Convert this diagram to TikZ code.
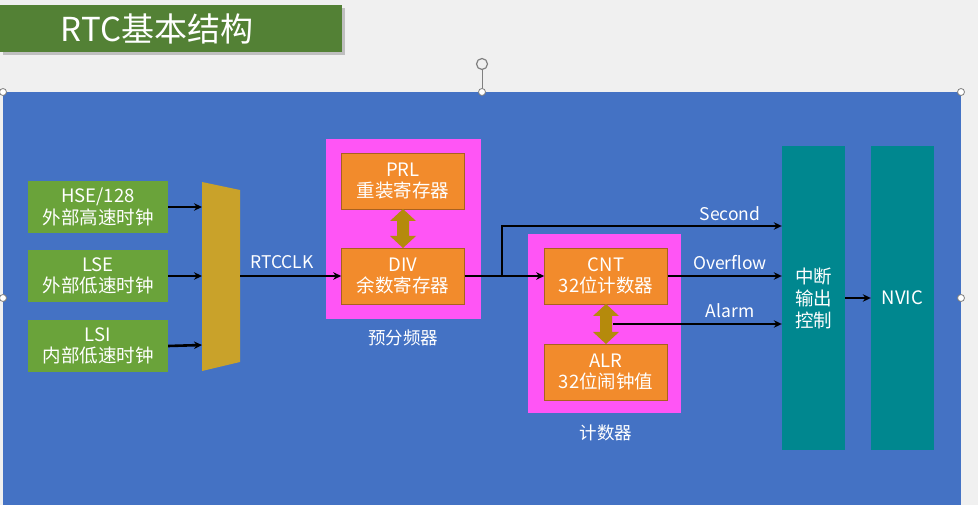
\documentclass[tikz,border=0pt]{standalone}
\usepackage{fontspec}
\setmainfont{Noto Sans CJK SC}
\usetikzlibrary{arrows.meta}
\definecolor{bgray}{HTML}{F0F0F0}
\definecolor{titlegreen}{HTML}{538135}
\definecolor{panelblue}{HTML}{4472C4}
\definecolor{srcgreen}{HTML}{6AA33A}
\definecolor{muxgold}{HTML}{C9A22A}
\definecolor{pinkbox}{HTML}{FF55F5}
\definecolor{orangebox}{HTML}{F28B2C}
\definecolor{dblgold}{HTML}{B58A0C}
\definecolor{tealbox}{HTML}{00878F}
\tikzset{
  srcbox/.style={fill=srcgreen, text=white, minimum width=140pt, minimum height=52pt, inner sep=0pt, align=center, font=\fontsize{18.5}{21.5}\selectfont},
  regbox/.style={fill=orangebox, draw=orangebox!70!black, line width=0.6pt, text=white, minimum width=123pt, minimum height=56pt, inner sep=0pt, align=center, font=\fontsize{18.5}{21.5}\selectfont},
  groupbox/.style={fill=pinkbox, inner sep=0pt},
  tealcol/.style={fill=tealbox, text=white, minimum width=63pt, minimum height=304pt, inner sep=0pt, align=center, font=\fontsize{18.5}{22}\selectfont},
  wire/.style={line width=2.6pt, draw=black},
  arr/.style={wire, -{Stealth[length=8pt,width=7.5pt]}},
  lbl/.style={text=white, font=\fontsize{17.5}{20}\selectfont, inner sep=0pt},
  handle/.style={circle, draw=gray, fill=white, line width=0.8pt, minimum size=7pt, inner sep=0pt},
}
\newcommand{\dblarrow}[4]{% x, ytop, ybot, color
  \fill[#4] (#1,#2) -- ++(13,12) -- ++(-7,0) -- (#1+6,#3-12) -- ++(7,0) -- (#1,#3) -- ++(-13,-12) -- ++(7,0) -- (#1-6,#2+12) -- ++(-7,0) -- cycle;}
\begin{document}
\begin{tikzpicture}[x=1pt,y=-1pt]
\useasboundingbox (0,0) rectangle (978,505);
\fill[bgray] (0,0) rectangle (978,505);
% title
\fill[black!25] (3,8) rectangle (345,55);
\node[fill=titlegreen, minimum width=342pt, minimum height=47pt, inner sep=0pt, anchor=north west] (title) at (0,5) {};
\node[text=white, font=\fontsize{33}{36}\selectfont, inner sep=0pt] (titletext) at (157,29) {RTC基本结构};
% panel
\draw[gray, line width=0.8pt] (482,69) -- (482,92);
\node[circle, draw=gray, line width=1.2pt, minimum size=11pt, inner sep=0pt] (rot) at (482,64) {};
\fill[panelblue] (3,92) rectangle (961,508);
% sources
\node[srcbox] (hse) at (98,207) {HSE/128\\外部高速时钟};
\node[srcbox] (lse) at (98,276) {LSE\\外部低速时钟};
\node[srcbox] (lsi) at (98,346) {LSI\\内部低速时钟};
% mux
\fill[muxgold] (202,182) -- (240,190) -- (240,362) -- (202,371) -- cycle;
\coordinate (m1) at (202,207);
\coordinate (m2) at (202,276);
\coordinate (m3) at (202,345);
\coordinate (mout) at (240,276);
\draw[arr] (hse.east) -- (m1);
\draw[arr] (lse.east) -- (m2);
\draw[arr] (lsi.east) -- (m3);
% prescaler
\node[groupbox, minimum width=155pt, minimum height=180pt, anchor=north west] (pre) at (326,139) {};
\node[regbox] (prl) at (403,181) {PRL\\重装寄存器};
\node[regbox] (div) at (403,276) {DIV\\余数寄存器};
\dblarrow{403}{209}{248}{dblgold}
\node[lbl] (prelbl) at (403,338) {预分频器};
\draw[arr] (mout) -- (div.west);
\node[lbl, anchor=south] (rtcclk) at (282,269) {RTCCLK};
% counter
\node[groupbox, minimum width=153pt, minimum height=179pt, anchor=north west] (cntgrp) at (528,234) {};
\node[regbox] (cnt) at (606,276) {CNT\\32位计数器};
\node[regbox] (alr) at (606,372) {ALR\\32位闹钟值};
\dblarrow{606}{304}{344}{dblgold}
\node[lbl] (cntlbl) at (606,433) {计数器};
% outputs
\node[tealcol] (irq) at (813.5,298) {中断\\输出\\控制};
\node[tealcol] (nvic) at (902.5,298) {NVIC};
\coordinate (br) at (502,276);
\coordinate (sec) at (502,226);
\coordinate (alm) at (613,324);
\draw[arr] (div.east) -- (cnt.west);
\draw[wire, line cap=rect] (br) -- (sec);
\draw[arr] (sec) -- (sec -| irq.west);
\draw[arr] (cnt.east) -- (cnt.east -| irq.west);
\draw[arr] (alm) -- (alm -| irq.west);
\node[lbl, anchor=south] (seclbl) at (730,221) {Second};
\node[lbl, anchor=south] (ovflbl) at (730,270) {Overflow};
\node[lbl, anchor=south] (almlbl) at (730,318) {Alarm};
\draw[arr] (irq.east) -- (nvic.west);
% selection handles
\node[handle] (h1) at (3,92) {};
\node[handle] (h2) at (482,92) {};
\node[handle] (h3) at (961,92) {};
\node[handle] (h4) at (3,298) {};
\node[handle] (h5) at (961,298) {};
\end{tikzpicture}
\end{document}
